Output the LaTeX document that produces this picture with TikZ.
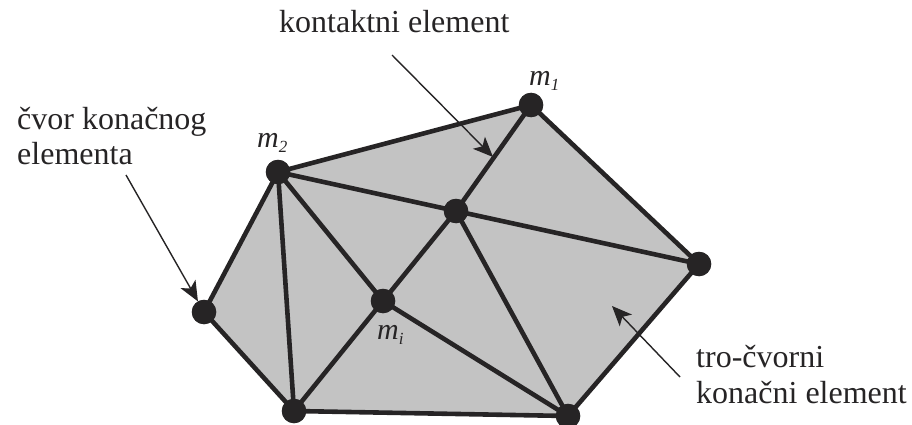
\documentclass[tikz,border=0pt]{standalone}
\usepackage{fontspec}
\setmainfont{Liberation Serif}
\usetikzlibrary{arrows.meta}
\definecolor{meshfill}{RGB}{195,195,195}
\definecolor{ink}{RGB}{38,36,37}
\tikzset{
 x=1pt,y=-1pt,
 meshnode/.style={circle,fill=ink,inner sep=0pt,minimum size=24pt},
 meshedge/.style={draw=ink,line width=4.6pt,line cap=round,line join=round},
 pointer/.style={draw=ink,line width=1.4pt,-{Stealth[length=20pt,width=17pt,inset=5pt]}},
 txt/.style={font=\fontsize{32pt}{38pt}\selectfont,text=ink,inner sep=0pt,anchor=base west},
 lab/.style={font=\itshape\fontsize{30pt}{36pt}\selectfont,text=ink,inner sep=0pt,anchor=base west}
}
\newcommand{\subs}[1]{\raisebox{-5pt}{\fontsize{17pt}{20pt}\selectfont #1}}
\begin{document}
\begin{tikzpicture}
\useasboundingbox (0,0) rectangle (912,425);
\fill[meshfill] (531,105)--(699,264)--(568,416)--(294,411)--(204,312)--(278,172)--cycle;
\node[meshnode] (a) at (531,105) {};
\node[meshnode] (b) at (699,264) {};
\node[meshnode] (c) at (568,416) {};
\node[meshnode] (d) at (294,411) {};
\node[meshnode] (e) at (204,312) {};
\node[meshnode] (f) at (278,172) {};
\node[meshnode] (g) at (456,211) {};
\node[meshnode] (h) at (383,301) {};
\draw[meshedge] (a.center)--(b.center)--(c.center)--(d.center)--(e.center)--(f.center)--(a.center);
\draw[meshedge] (f.center)--(g.center) (g.center)--(b.center) (a.center)--(g.center)
  (g.center)--(h.center) (f.center)--(h.center) (f.center)--(d.center)
  (h.center)--(d.center) (h.center)--(c.center) (g.center)--(c.center);
\foreach \n in {a,b,c,d,e,f,g,h} \fill[ink] (\n) circle[radius=12.3];
\node[txt] (t1) at (279,33) {kontaktni element};
\node[txt] (t2) at (17,129) {čvor konačnog};
\node[txt] (t3) at (17,164) {elementa};
\node[txt] (t4) at (696,367) {tro-čvorni};
\node[txt] (t5) at (696,403) {konačni element};
\node[lab] (l1) at (529,86) {m\subs{1}};
\node[lab] (l2) at (257,147) {m\subs{2}};
\node[lab] (l3) at (377,339) {m\subs{i}};
\coordinate (s1) at (392,55);
\coordinate (e1) at (493,157);
\coordinate (s2) at (126,175);
\coordinate (s3) at (680,377);
\coordinate (e3) at (612,306);
\draw[pointer] (s1) -- (e1);
\draw[pointer] (s2) -- (e);
\draw[pointer] (s3) -- (e3);
\end{tikzpicture}
\end{document}
